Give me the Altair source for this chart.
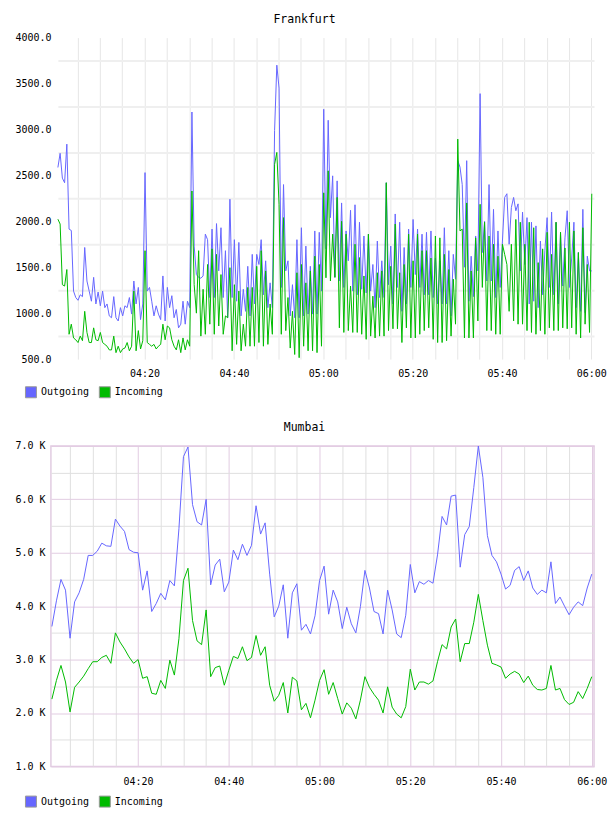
import altair as alt
import pandas as pd

MONO = "DejaVu Sans Mono"
BLUE = "#6666ff"
GREEN = "#00bb00"
SERIES = ["Outgoing", "Incoming"]

# ---------------- Frankfurt (30 s samples) ----------------
fra_start = "2024-01-01T04:00:36"
fra_step_s = 30
fra_out = [
    2586, 2740, 2470, 2420, 2840, 1915, 1900, 1240, 1170, 1140,
    1200, 1180, 1715, 1350, 1240, 1130, 1390, 1100, 1230, 1080,
    1240, 1060, 1100, 970, 950, 1180, 950, 915, 1060, 970,
    1080, 1060, 1170, 990, 1350, 1100, 1280, 930, 1100, 2530,
    1240, 1280, 1130, 970, 1080, 990, 930, 1405, 915, 1280,
    1060, 1190, 950, 1040, 840, 880, 1130, 880, 1130, 1060,
    3190, 1730, 1420, 1390, 1380, 1405, 1860, 1800, 1170, 1915,
    1170, 1975, 1460, 1930, 1170, 1680, 950, 2240, 1170, 1800,
    1130, 1770, 970, 1260, 1020, 1510, 970, 1640, 1100, 1640,
    1530, 1800, 1200, 1570, 1060, 1330, 1060, 2990, 3700, 3450,
    1280, 2400, 1460, 1570, 970, 1310, 950, 1800, 950, 1930,
    970, 1730, 990, 1510, 990, 1895, 990, 1880, 1240, 3220,
    1700, 3100, 2040, 2495, 1390, 2440, 1350, 2200, 1280, 1895,
    1570, 2120, 1240, 2180, 1200, 1990, 1260, 1840, 1220, 1860,
    1240, 1530, 1060, 1785, 1170, 1570, 1170, 2420, 1310, 1730,
    1100, 2080, 1280, 1990, 1020, 1715, 1100, 1915, 1280, 2020,
    1420, 1915, 1280, 1860, 1200, 1880, 1200, 1895, 1170, 1600,
    1100, 1570, 1100, 1930, 1100, 1680, 970, 1640, 1370, 2660,
    2590, 2400, 1500, 2660, 1130, 1620, 1180, 1840, 1460, 3390,
    1660, 2000, 1350, 2400, 1350, 2130, 1170, 1895, 1280, 1785,
    2260, 2300, 1750, 2150, 2260, 2115, 2190, 1460, 2100, 1530,
    2040, 1100, 1990, 1130, 1950, 1060, 1785, 1200, 1680, 2040,
    1280, 2100, 1200, 1990, 1100, 1880, 1295, 1820, 2115, 1280,
    1600, 1990, 1060, 1660, 1020, 2130, 1005, 1620, 1460, 1460,
]
fra_in = [
    2023, 1970, 1310, 1295, 1475, 770, 880, 730, 710, 680,
    750, 700, 1020, 790, 680, 680, 840, 710, 700, 790,
    680, 660, 640, 600, 600, 750, 570, 640, 570, 610,
    620, 680, 590, 640, 1240, 590, 810, 610, 700, 1680,
    680, 660, 640, 660, 610, 640, 660, 880, 710, 860,
    840, 710, 640, 600, 710, 570, 730, 600, 710, 640,
    2330, 1310, 1000, 1680, 750, 1260, 770, 1530, 880, 1700,
    770, 1640, 860, 1420, 770, 970, 950, 1495, 590, 1310,
    660, 1240, 590, 880, 640, 1280, 640, 1280, 640, 1510,
    680, 1680, 640, 1460, 660, 1100, 770, 2620, 2750, 2185,
    770, 2040, 810, 1170, 620, 1020, 550, 1440, 515, 1530,
    640, 1330, 590, 1460, 590, 1620, 570, 1530, 640, 2310,
    1385, 2550, 1350, 1860, 1390, 2260, 840, 2000, 790, 1860,
    810, 1295, 790, 1750, 790, 1605, 770, 1405, 715, 1860,
    750, 1185, 730, 1440, 750, 1460, 750, 2420, 810, 1510,
    830, 1970, 830, 1440, 680, 1530, 840, 1860, 730, 1570,
    730, 1860, 770, 1680, 810, 1680, 840, 1600, 715, 1840,
    680, 1820, 680, 1640, 700, 1475, 750, 1370, 880, 2895,
    1895, 1915, 730, 2200, 730, 1460, 730, 1820, 915, 2185,
    1280, 1990, 810, 1840, 810, 1750, 770, 1620, 770, 1750,
    1640, 1530, 1020, 1750, 915, 2020, 880, 1990, 880, 1750,
    810, 1990, 790, 1930, 770, 1550, 810, 1700, 770, 1880,
    840, 1640, 810, 1990, 810, 1880, 840, 1710, 830, 1990,
    840, 1895, 770, 1660, 730, 1930, 880, 1530, 790, 2300,
]
fra_y_ticks = [500, 750, 1000, 1250, 1500, 1750, 2000, 2250, 2500, 2750,
               3000, 3250, 3500, 3750, 4000]
fra_domain = ["2024-01-01T04:00:36", "2024-01-01T06:00:36"]

# ---------------- Mumbai (1 min samples) ----------------
mum_start = "2024-01-01T04:01:00"
mum_step_s = 60
mum_out = [
    3620, 4100, 4500, 4300, 3400, 4080, 4250, 4500, 4950, 4950,
    5030, 5180, 5130, 5120, 5630, 5500, 5400, 5060, 5010, 5000,
    4300, 4660, 3900, 4050, 4240, 4120, 4480, 4380, 5450, 6800,
    6980, 5900, 5580, 5520, 6000, 4400, 4770, 4880, 4270, 4450,
    5050, 4870, 5160, 4950, 5140, 5880, 5350, 5560, 4600, 3800,
    4000, 4400, 3400, 4250, 4420, 3550,
    3660, 3480, 3820, 4480, 4750, 3850, 4300, 4080, 3580, 3980,
    3670, 3500, 3990, 4670, 4340, 3900, 3860, 3480, 4300, 3930,
    3480, 3410, 3830, 4780, 4250, 4460, 4410, 4480, 4430, 4960,
    5680, 5520, 6060, 6080, 4730, 5340, 5490, 6220, 7000, 6410,
    5320, 4950, 4830, 4600, 4320, 4390, 4670, 4740, 4480, 4660,
    4340, 4220, 4300, 4250, 4830, 4050, 4170, 4000, 3840, 3980,
    4080, 4010, 4340, 4600,
]
mum_in = [
    2260, 2610, 2890, 2580, 2020, 2480, 2580, 2690, 2830, 2960,
    2960, 3040, 3080, 2930, 3500, 3330, 3200, 3050, 2930, 3000,
    2650, 2680, 2370, 2350, 2610, 2460, 2990, 2710, 3390, 4480,
    4710, 3730, 3350, 3280, 3930, 2680, 2850, 2880, 2520, 2800,
    3060, 3020, 3240, 2980, 3040, 3450, 3080, 3240, 2520, 2220,
    2330, 2570, 2000, 2670, 2600, 2060,
    2180, 1910, 2240, 2610, 2810, 2350, 2570, 2270, 1980, 2190,
    2090, 1890, 2240, 2680, 2480, 2350, 2240, 2000, 2490, 2110,
    1980, 1910, 2120, 2820, 2430, 2580, 2580, 2540, 2600, 2960,
    3280, 3200, 3610, 3760, 2960, 3300, 3300, 3700, 4220, 3730,
    3270, 2930, 2900, 2860, 2650, 2730, 2780, 2730, 2570, 2690,
    2520, 2440, 2430, 2460, 2890, 2430, 2460, 2250, 2160, 2200,
    2400, 2270, 2460, 2680,
]
mum_y_ticks = [1000, 1500, 2000, 2500, 3000, 3500, 4000, 4500, 5000, 5500,
               6000, 6500, 7000]
mum_domain = ["2024-01-01T04:00:47", "2024-01-01T06:00:30"]

# 5-minute grid tick positions from 04:00 to 06:00
grid_start = "2024-01-01T04:00:00"
grid_step_min = 5
grid_count = 25

PANEL_W = 544
FRA_INSET = 7   # Frankfurt plot starts a little right of Mumbai's


def ms(s):
    return int(pd.Timestamp(s, tz="UTC").value // 10**6)


def times(start, n, step):
    t0 = pd.Timestamp(start, tz="UTC")
    return [int((t0 + pd.Timedelta(seconds=step * i)).value // 10**6)
            for i in range(n)]


def long_df(start, step, out_vals, in_vals):
    rows = []
    for name, vals in (("Outgoing", out_vals), ("Incoming", in_vals)):
        for t, v in zip(times(start, len(vals), step), vals):
            rows.append({"t": t, "v": v, "series": name})
    return pd.DataFrame(rows)


grid_vals = times(grid_start, grid_count, grid_step_min * 60)


def panel(df, title, x_dom, x_range, y_dom, x_axis, y_axis, h, lx, ly, view):
    x = alt.X("t:T", scale=alt.Scale(type="utc", domain=[ms(v) for v in x_dom],
                                     range=x_range, nice=False),
              axis=x_axis)
    y = alt.Y("v:Q", scale=alt.Scale(domain=y_dom, nice=False, zero=False),
              axis=y_axis)
    base = alt.Chart(df)
    leg = base.mark_square(opacity=0).encode(
        x=x, y=y,
        fill=alt.Fill("series:N",
                      scale=alt.Scale(domain=SERIES, range=[BLUE, GREEN]),
                      legend=alt.Legend(
                          title=None, orient="none", legendX=lx, legendY=ly,
                          direction="horizontal", symbolType="square",
                          symbolSize=121, symbolStrokeColor="#999999",
                          symbolStrokeWidth=1, labelFont=MONO,
                          labelFontSize=10, labelColor="#000000",
                          labelOffset=4, columnPadding=7)),
    )
    out_line = base.transform_filter(alt.datum.series == "Outgoing").mark_line(
        color=BLUE, strokeWidth=1, clip=True).encode(x=x, y=y)
    in_line = base.transform_filter(alt.datum.series == "Incoming").mark_line(
        color=GREEN, strokeWidth=1, clip=True).encode(x=x, y=y)
    return alt.layer(leg, out_line, in_line).properties(
        width=PANEL_W, height=h, view=view,
        title=alt.TitleParams(title, font=MONO, fontSize=11.5,
                              fontWeight="normal", color="#000000",
                              anchor="middle", frame="group", dx=-18,
                              offset=7),
    )


x_label_expr = ("utcminutes(datum.value) % 20 == 0 ? "
                "utcFormat(datum.value, '%H:%M') : ''")

fra_x_axis = alt.Axis(title=None, values=grid_vals, labelExpr=x_label_expr,
                      labelOverlap=False, labelFlush=False, ticks=False,
                      domain=False, grid=True, gridColor="#e6e6e6",
                      gridWidth=1, labelFont=MONO, labelFontSize=10,
                      labelColor="#000000", labelPadding=9)
fra_y_axis = alt.Axis(title=None, values=fra_y_ticks, offset=-FRA_INSET,
                      labelExpr="datum.value % 500 == 0 ? format(datum.value, '.1f') : ''",
                      labelOverlap=False, ticks=False, domain=False, grid=True,
                      gridColor={"condition": {"test": "datum.value % 500 == 0",
                                               "value": "transparent"},
                                 "value": "#efefef"},
                      gridWidth=2, labelFont=MONO, labelFontSize=10,
                      labelColor="#000000", labelPadding=7)

MAJOR = "#e2cce2"
MINOR = "#e0e0e0"
mum_x_axis = alt.Axis(title=None, values=grid_vals, labelExpr=x_label_expr,
                      labelOverlap=False, labelFlush=False, ticks=False,
                      domain=False, grid=True,
                      gridColor={"condition": {"test": "utcminutes(datum.value) % 20 == 0",
                                               "value": MAJOR},
                                 "value": MINOR},
                      gridWidth=1, labelFont=MONO, labelFontSize=10,
                      labelColor="#000000", labelPadding=10)
mum_y_axis = alt.Axis(title=None, values=mum_y_ticks,
                      labelExpr="datum.value % 1000 == 0 ? format(datum.value / 1000, '.1f') + ' K' : ''",
                      labelOverlap=False, ticks=False, domain=False, grid=True,
                      gridColor={"condition": {"test": "datum.value % 1000 == 0",
                                               "value": MAJOR},
                                 "value": MINOR},
                      gridWidth=1, labelFont=MONO, labelFontSize=10,
                      labelColor="#000000", labelPadding=6)

fra = panel(long_df(fra_start, fra_step_s, fra_out, fra_in), "Frankfurt",
            fra_domain, [FRA_INSET, PANEL_W], [500, 4000], fra_x_axis,
            fra_y_axis, 322, -26, 349,
            alt.ViewBackground(stroke="transparent"))
mum = panel(long_df(mum_start, mum_step_s, mum_out, mum_in), "Mumbai",
            mum_domain, [0, PANEL_W], [1000, 7000], mum_x_axis, mum_y_axis,
            321, -26, 350,
            alt.ViewBackground(stroke=MAJOR, strokeWidth=1.5))

chart = alt.vconcat(fra, mum, spacing=20).resolve_scale(
    fill="independent"
).resolve_legend(fill="independent").configure(
    padding={"left": 14, "top": 13, "right": 0, "bottom": 0}
)

chart.save("out.html", embed_options={"renderer": "svg", "actions": False})
